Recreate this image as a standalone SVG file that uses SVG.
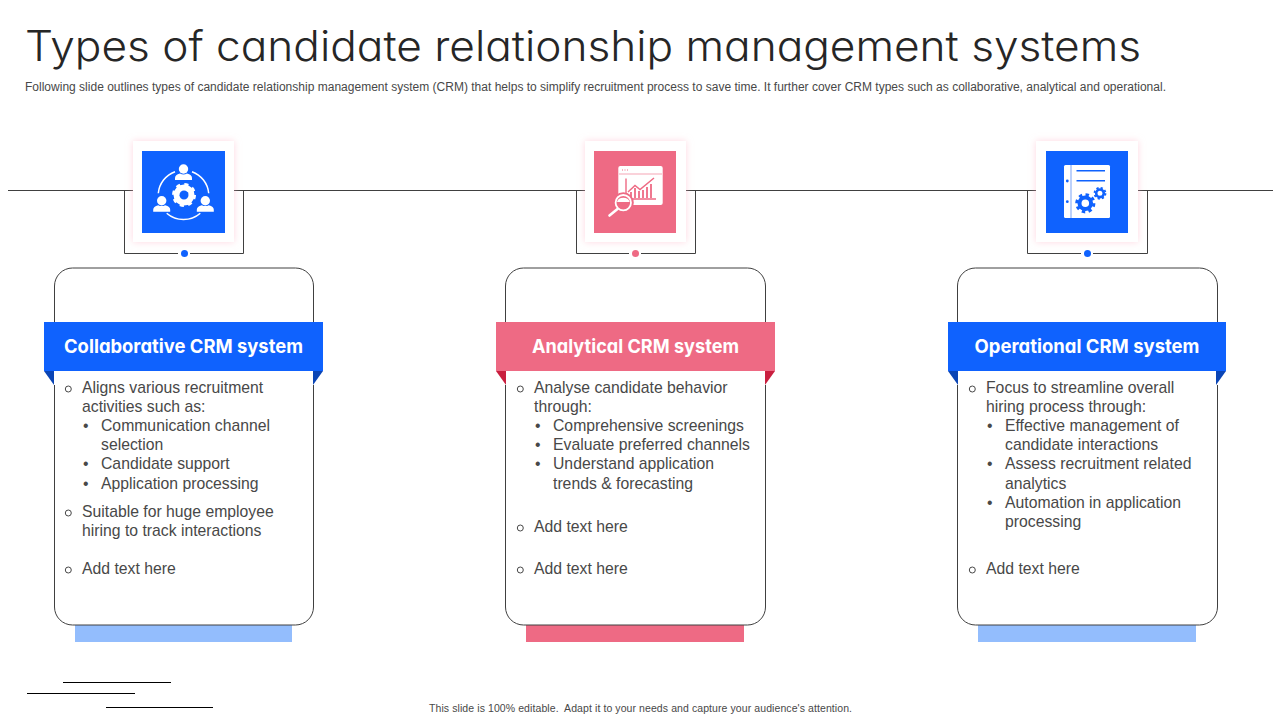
<svg xmlns="http://www.w3.org/2000/svg" width="1280" height="720" viewBox="0 0 1280 720">
<style>
.body{font-family:"Liberation Sans",Arial,sans-serif;font-size:15.75px;fill:#484848}
.mark{font-family:"Liberation Sans",Arial,sans-serif;font-size:15.75px;fill:#484848}
.ring{fill:none;stroke:#484848;stroke-width:1}
.head{font-family:"Inter","Liberation Sans",sans-serif;font-size:19px;font-weight:700;fill:#fff;text-anchor:middle;font-feature-settings:"cv11" 1}
.card{fill:#fff;stroke:#404040;stroke-width:1}
.conn{fill:none;stroke:#404040;stroke-width:1}
.frame{fill:#fff;filter:url(#glow)}
.w{fill:#fff}
.blue{fill:#0f62fe}
.pink{fill:#ee6a84}
</style>
<defs>
<filter id="glow" x="-20%" y="-20%" width="140%" height="140%"><feDropShadow dx="0" dy="0" stdDeviation="3.500" flood-color="#ffb6c8" flood-opacity="0.550"/></filter>
<g id="person"><circle cx="0" cy="-6" r="4.700"/><path d="M-8.500 5v-2q0-3.500 5-4.500q3.500 1.800 7 0q5 1 5 4.500v2z"/></g>
</defs>
<rect width="1280" height="720" fill="#fff"/>
<text id="title" x="25" y="61" font-family="Inter,Liberation Sans,sans-serif" font-size="42" font-weight="300" fill="#262626" style="font-feature-settings:'cv11' 1" textLength="1116" lengthAdjust="spacingAndGlyphs">Types of candidate relationship management systems</text>
<text id="subtitle" x="25" y="91" font-family="Liberation Sans,Arial,sans-serif" font-size="12" fill="#484848" textLength="1141" lengthAdjust="spacing">Following slide outlines types of candidate relationship management system (CRM) that helps to simplify recruitment process to save time. It further cover CRM types such as collaborative, analytical and operational.</text>

<g id="connectors" class="conn">
<path d="M8 190.500H133M234 190.500H585M686 190.500H1036M1138 190.500H1273"/>
<path d="M124.500 190.500V253.500H178M190 253.500H243.500V190.500"/>
<path d="M576.500 190.500V253.500H629M641 253.500H695.500V190.500"/>
<path d="M1027.500 190.500V253.500H1081M1093 253.500H1147.500V190.500"/>
</g>

<g id="node-collab">
<rect class="frame" x="133" y="141" width="101" height="101"/>
<rect class="blue" x="142" y="151" width="83" height="82"/>
<circle class="blue" cx="184.500" cy="253.500" r="3.500"/>
<path d="M158.300 193.300A25.500 25.500 0 0 1 175 171.700M192 171.700A25.500 25.500 0 0 1 208.700 193.300M166.700 213.300A25.500 25.500 0 0 0 200.300 213.300" stroke="#fff" stroke-width="1.500" fill="none"/>
<g class="w"><use href="#person" x="183.500" y="175"/><use href="#person" x="161.700" y="206.700"/><use href="#person" x="205.300" y="206.700"/></g>
<circle cx="184" cy="195" r="7.500" fill="none" stroke="#fff" stroke-width="6"/>
<circle cx="184" cy="195" r="10.500" fill="none" stroke="#fff" stroke-width="3" stroke-dasharray="4 4.250"/>
<path d="M180 195l3 3 5-5.500" fill="none" stroke="#0f62fe" stroke-width="1.500"/>
<rect class="blue" x="44" y="322" width="279" height="49"/>
<path d="M44 371h10v14z" fill="#0b45b5"/><path d="M323 371h-10v14z" fill="#0b45b5"/>
</g>

<g id="node-analytical">
<rect class="frame" x="585" y="141" width="101" height="101"/>
<rect class="pink" x="594" y="151" width="82" height="82"/>
<circle class="pink" cx="635.500" cy="253.500" r="3.500"/>
<rect class="w" x="618.300" y="166" width="44.400" height="39" rx="2"/>
<path d="M622 170h1M624.500 170h1M627 170h1" stroke="#ee6a84"/>
<path d="M619 174h43" stroke="#ee6a84" stroke-width=".6"/>
<path d="M626 178.500V199H656" fill="none" stroke="#ee6a84" stroke-width="1.400"/>
<path d="M628 192l7-6.500 5 4 14-11.500" fill="none" stroke="#ee6a84" stroke-width="1.500"/>
<path d="M631 198v-6M635 198v-10M639 198v-7M643 198v-8M647 198v-11M651 198v-14" stroke="#ee6a84" stroke-width="1.800"/>
<circle cx="623.300" cy="202.700" r="10.500" fill="#ee6a84"/>
<circle cx="623.300" cy="202.700" r="7.700" fill="#ee6a84" stroke="#fff" stroke-width="1.800"/>
<path d="M617 202a6.500 5.500 0 0 1 12.600 0z" fill="#fff"/>
<path d="M617.500 209l-8 6.500" stroke="#fff" stroke-width="2.600" stroke-linecap="round"/>
<rect class="pink" x="496" y="322" width="279" height="49"/>
<path d="M496 371h10v14z" fill="#c91f3f"/><path d="M775 371h-10v14z" fill="#c91f3f"/>
</g>

<g id="node-operational">
<rect class="frame" x="1036" y="141" width="102" height="101"/>
<rect class="blue" x="1046" y="151" width="82" height="82"/>
<circle class="blue" cx="1087.500" cy="253.500" r="3.500"/>
<rect class="w" x="1064" y="165" width="46" height="53" rx="1.500"/>
<path d="M1071 165v53" stroke="#8fb3f8" stroke-width="1.200"/>
<path d="M1076.500 170.700h28.500M1076.500 180.700h28.500" stroke="#0f62fe" stroke-width="1.500"/>
<circle class="blue" cx="1067.300" cy="181" r="1.400"/><circle class="blue" cx="1067.300" cy="201.700" r="1.400"/>
<circle cx="1085.300" cy="203.300" r="5.800" fill="none" stroke="#0f62fe" stroke-width="4"/>
<circle cx="1085.300" cy="203.300" r="8.600" fill="none" stroke="#0f62fe" stroke-width="3" stroke-dasharray="3.400 3.350"/>
<circle cx="1100" cy="193.300" r="3.800" fill="none" stroke="#0f62fe" stroke-width="2.600"/>
<circle cx="1100" cy="193.300" r="5.500" fill="none" stroke="#0f62fe" stroke-width="1.800" stroke-dasharray="2.200 2.120"/>
<rect class="blue" x="948" y="322" width="278" height="49"/>
<path d="M948 371h10v14z" fill="#0b45b5"/><path d="M1226 371h-10v14z" fill="#0b45b5"/>
</g>

<rect id="bar-1" x="75" y="625" width="217" height="17" fill="#93bdfd"/>
<rect id="bar-2" x="526" y="625" width="218" height="17" fill="#ee6a84"/>
<rect id="bar-3" x="978" y="625" width="218" height="17" fill="#93bdfd"/>

<g id="card-1">
<path class="card" d="M54.500 322V286a18 18 0 0 1 18-18H295.500a18 18 0 0 1 18 18V322M54.500 385V607a18 18 0 0 0 18 18H295.500a18 18 0 0 0 18-18V385"/>
<text class="head" x="183.500" y="353" textLength="239" lengthAdjust="spacingAndGlyphs">Collaborative CRM system</text>
<circle class="ring" cx="68.300" cy="389" r="3"/>
<text class="body" x="82" y="393">Aligns various recruitment</text>
<text class="body" x="82" y="412">activities such as:</text>
<text class="mark" x="83" y="431">•</text><text class="body" x="101" y="431">Communication channel</text>
<text class="body" x="101" y="450">selection</text>
<text class="mark" x="83" y="469">•</text><text class="body" x="101" y="469">Candidate support</text>
<text class="mark" x="83" y="489">•</text><text class="body" x="101" y="489">Application processing</text>
<circle class="ring" cx="68.300" cy="513" r="3"/>
<text class="body" x="82" y="517">Suitable for huge employee</text>
<text class="body" x="82" y="536">hiring to track interactions</text>
<circle class="ring" cx="68.300" cy="570" r="3"/>
<text class="body" x="82" y="574">Add text here</text>
</g>

<g id="card-2">
<path class="card" d="M505.500 322V286a18 18 0 0 1 18-18H747.500a18 18 0 0 1 18 18V322M505.500 385V607a18 18 0 0 0 18 18H747.500a18 18 0 0 0 18-18V385"/>
<text class="head" x="635.500" y="353" textLength="207" lengthAdjust="spacingAndGlyphs">Analytical CRM system</text>
<circle class="ring" cx="520.300" cy="389" r="3"/>
<text class="body" x="534" y="393">Analyse candidate behavior</text>
<text class="body" x="534" y="412">through:</text>
<text class="mark" x="535" y="431">•</text><text class="body" x="553" y="431">Comprehensive screenings</text>
<text class="mark" x="535" y="450">•</text><text class="body" x="553" y="450">Evaluate preferred channels</text>
<text class="mark" x="535" y="469">•</text><text class="body" x="553" y="469">Understand application</text>
<text class="body" x="553" y="489">trends &amp; forecasting</text>
<circle class="ring" cx="520.300" cy="528" r="3"/>
<text class="body" x="534" y="532">Add text here</text>
<circle class="ring" cx="520.300" cy="570" r="3"/>
<text class="body" x="534" y="574">Add text here</text>
</g>

<g id="card-3">
<path class="card" d="M957.500 322V286a18 18 0 0 1 18-18H1199.500a18 18 0 0 1 18 18V322M957.500 385V607a18 18 0 0 0 18 18H1199.500a18 18 0 0 0 18-18V385"/>
<text class="head" x="1087" y="353" textLength="225" lengthAdjust="spacingAndGlyphs">Operational CRM system</text>
<circle class="ring" cx="972.300" cy="389" r="3"/>
<text class="body" x="986" y="393">Focus to streamline overall</text>
<text class="body" x="986" y="412">hiring process through:</text>
<text class="mark" x="987" y="431">•</text><text class="body" x="1005" y="431">Effective management of</text>
<text class="body" x="1005" y="450">candidate interactions</text>
<text class="mark" x="987" y="469">•</text><text class="body" x="1005" y="469">Assess recruitment related</text>
<text class="body" x="1005" y="489">analytics</text>
<text class="mark" x="987" y="508">•</text><text class="body" x="1005" y="508">Automation in application</text>
<text class="body" x="1005" y="527">processing</text>
<circle class="ring" cx="972.300" cy="570" r="3"/>
<text class="body" x="986" y="574">Add text here</text>
</g>

<path id="stray-lines" d="M63 682.500H171M27 693.500H135M106 707.500H213" stroke="#000" stroke-width="1" fill="none"/>
<text id="footer" x="429" y="711.500" font-family="Liberation Sans,Arial,sans-serif" font-size="10.500" fill="#484848" xml:space="preserve" textLength="423" lengthAdjust="spacing">This slide is 100% editable.  Adapt it to your needs and capture your audience's attention.</text>
</svg>
